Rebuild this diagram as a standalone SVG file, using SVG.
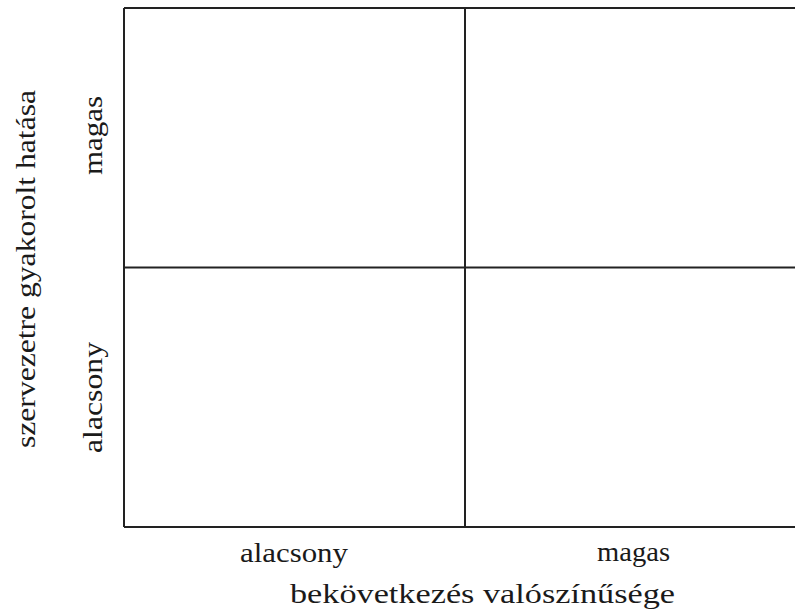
<svg xmlns="http://www.w3.org/2000/svg" width="795" height="612" viewBox="0 0 795 612">
<style>
.ln{stroke:#222;stroke-width:2;fill:none}
.t{font-family:'Liberation Serif','DejaVu Serif','Noto Serif',serif;font-size:28px;fill:#1a1a1a}
</style>
<rect width="795" height="612" fill="#fff"/>
<g id="connectors">
<path class="ln" d="M124,8 H795 M124,8 V527 M124,527 H795 M465,8 V527 M124,267.5 H795"/>
</g>
<g id="x-axis">
<text class="t" font-family="Liberation Serif, DejaVu Serif, serif" x="240" y="562" textLength="108" lengthAdjust="spacingAndGlyphs">alacsony</text>
<text class="t" font-family="Liberation Serif, DejaVu Serif, serif" x="597" y="561" textLength="73" lengthAdjust="spacingAndGlyphs">magas</text>
<text class="t" font-family="Liberation Serif, DejaVu Serif, serif" x="290" y="603" textLength="385" lengthAdjust="spacingAndGlyphs">bekövetkezés valószínűsége</text>
</g>
<g id="y-axis">
<text class="t" font-family="Liberation Serif, DejaVu Serif, serif" transform="translate(102,175) rotate(-90)" textLength="79" lengthAdjust="spacingAndGlyphs">magas</text>
<text class="t" font-family="Liberation Serif, DejaVu Serif, serif" transform="translate(102,453) rotate(-90)" textLength="111" lengthAdjust="spacingAndGlyphs">alacsony</text>
<text class="t" font-family="Liberation Serif, DejaVu Serif, serif" transform="translate(35,448) rotate(-90)" textLength="358" lengthAdjust="spacingAndGlyphs">szervezetre gyakorolt hatása</text>
</g>
</svg>
